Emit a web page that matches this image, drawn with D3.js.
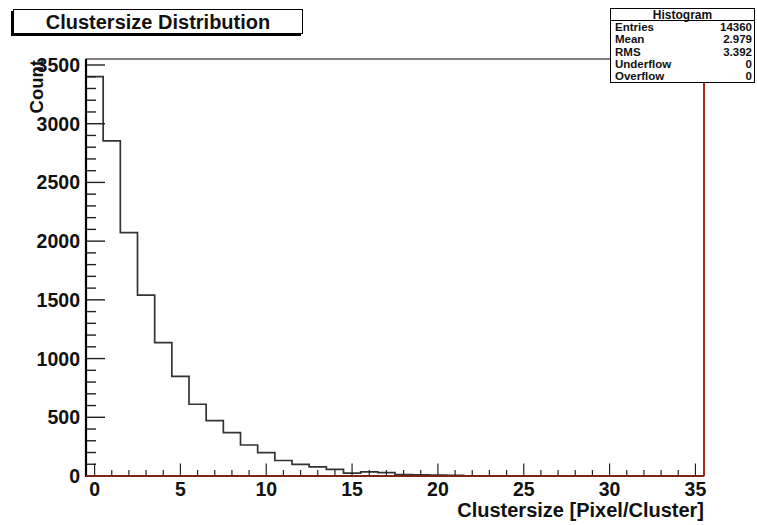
<!DOCTYPE html>
<html><head><meta charset="utf-8">
<script src="https://cdn.jsdelivr.net/npm/d3@7"></script>
<style>body{margin:0;background:#fff}svg{display:block}text{font-family:"Liberation Sans",Arial,sans-serif;font-weight:bold}</style>
</head><body><svg id="c" width="757" height="525"></svg>
<script>
const binCenters = d3.range(0, 36);
const counts = [3401, 2853, 2072, 1541, 1135, 848, 611, 471, 369, 264, 199, 132, 99, 78, 57, 25, 35, 29, 12, 9, 7, 6, 2, 1, 1, 0, 0, 0, 0, 0, 0, 0, 0, 0, 0, 0];
const xTicks = [0, 5, 10, 15, 20, 25, 30, 35];
const yTicks = [0, 500, 1000, 1500, 2000, 2500, 3000, 3500];
const statLabels = ["Entries", "Mean", "RMS", "Underflow", "Overflow"];
const statValues = ["14360", "2.979", "3.392", "0", "0"];
const title = "Clustersize Distribution";
const xTitle = "Clustersize [Pixel/Cluster]";
const yTitle = "Count";

const svg = d3.select("#c");
const L = 86, R = 704, T = 59, B = 476;
const x = d3.scaleLinear().domain([-0.5, 35.5]).range([L, R]);
const y = d3.scaleLinear().domain([0, 3551]).range([B, T]);

// frame
svg.append("rect").attr("x", L).attr("y", T).attr("width", R - L).attr("height", B - T)
  .attr("fill", "none").attr("stroke", "#000").attr("stroke-width", 1);

// histogram step line
const p = d3.path();
p.moveTo(x(-0.5), y(0));
binCenters.forEach((c, i) => {
  p.lineTo(x(c - 0.5), y(counts[i]));
  p.lineTo(x(c + 0.5), y(counts[i]));
});
p.lineTo(x(35.5), y(0));
svg.append("path").attr("d", p.toString()).attr("fill", "none")
  .attr("stroke", "#333").attr("stroke-width", 1.7);

// y axis
const yMinor = d3.range(0, 3551, 100);
svg.append("g").selectAll("line").data(yMinor).join("line")
  .attr("x1", L).attr("x2", d => L + (d % 500 === 0 ? 19 : 10))
  .attr("y1", d => y(d)).attr("y2", d => y(d))
  .attr("stroke", "#222").attr("stroke-width", 1.4);
svg.append("line").attr("x1", L).attr("x2", L).attr("y1", T).attr("y2", B + 1)
  .attr("stroke", "#000").attr("stroke-width", 2.2);
svg.append("g").selectAll("text").data(yTicks).join("text")
  .attr("x", 80).attr("y", d => y(d) + 7).attr("text-anchor", "end")
  .attr("font-size", 19.5).attr("fill", "#111").text(d => d);

// x axis
const xMinor = d3.range(0, 36, 1);
svg.append("g").selectAll("line").data(xMinor).join("line")
  .attr("x1", d => x(d)).attr("x2", d => x(d))
  .attr("y1", B).attr("y2", d => B - (d % 5 === 0 ? 12.5 : 6))
  .attr("stroke", "#222").attr("stroke-width", 1.2);
svg.append("g").selectAll("text").data(xTicks).join("text")
  .attr("x", d => x(d)).attr("y", 496).attr("text-anchor", "middle")
  .attr("font-size", 19.5).attr("fill", "#111").text(d => d);

// red lines
svg.append("line").attr("x1", L).attr("x2", R).attr("y1", B).attr("y2", B)
  .attr("stroke", "#7a2418").attr("stroke-width", 2);
svg.append("line").attr("x1", R).attr("x2", R).attr("y1", 83).attr("y2", B)
  .attr("stroke", "#a82a1c").attr("stroke-width", 2);

// axis titles
svg.append("text").attr("x", R).attr("y", 517).attr("text-anchor", "end")
  .attr("font-size", 20).attr("fill", "#111").text(xTitle);
svg.append("text").attr("transform", "translate(43,60) rotate(-90)")
  .attr("text-anchor", "end").attr("font-size", 18.5).attr("fill", "#111").text(yTitle);

// title box
svg.append("rect").attr("x", 11).attr("y", 11).attr("width", 290).attr("height", 25).attr("fill", "#000");
svg.append("rect").attr("x", 13.5).attr("y", 9.5).attr("width", 289).attr("height", 24)
  .attr("fill", "#fff").attr("stroke", "#000").attr("stroke-width", 1);
svg.append("text").attr("x", 158).attr("y", 28.5).attr("text-anchor", "middle")
  .attr("font-size", 20).attr("fill", "#111").text(title);

// stats box
const sx = 610.5, sy = 8.5, sw = 144, sh = 74;
svg.append("rect").attr("x", sx).attr("y", sy).attr("width", sw).attr("height", sh)
  .attr("fill", "#fff").attr("stroke", "#000").attr("stroke-width", 1);
svg.append("line").attr("x1", sx).attr("x2", sx + sw).attr("y1", 20.5).attr("y2", 20.5)
  .attr("stroke", "#000").attr("stroke-width", 1);
svg.append("text").attr("x", sx + sw / 2).attr("y", 18.5).attr("text-anchor", "middle")
  .attr("font-size", 12).attr("fill", "#111").text("Histogram");
const rowY = i => 31 + i * 12.3;
svg.append("g").selectAll("text").data(statLabels).join("text")
  .attr("x", 615).attr("y", (d, i) => rowY(i)).attr("font-size", 11.5).attr("fill", "#111").text(d => d);
svg.append("g").selectAll("text").data(statValues).join("text")
  .attr("x", 752).attr("y", (d, i) => rowY(i)).attr("text-anchor", "end")
  .attr("font-size", 11.5).attr("fill", "#111").text(d => d);
</script></body></html>
